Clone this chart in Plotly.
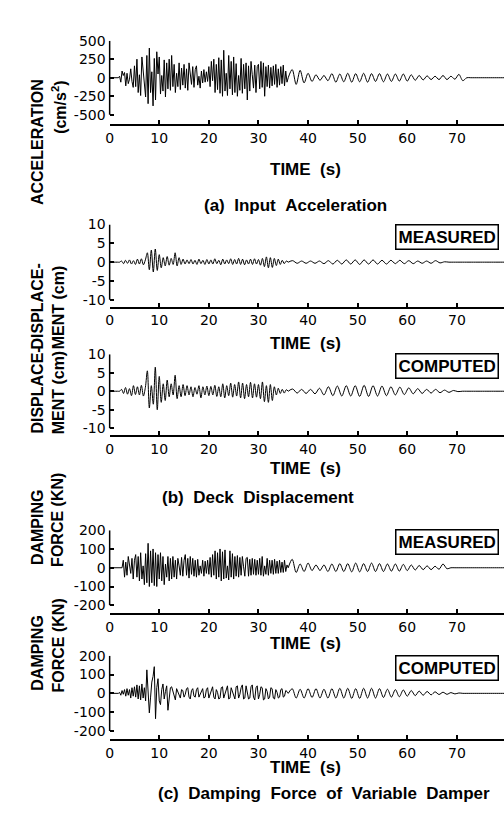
import numpy as np
import plotly.graph_objects as go

W, H = 504, 816

# ------------------------------------------------------------------ data
TIME_TICKS = [0, 10, 20, 30, 40, 50, 60, 70]
ACC_TICKS = [500, 250, 0, -250, -500]
DISP_TICKS = [10, 5, 0, -5, -10]
FORCE_TICKS = [200, 100, 0, -100, -200]

DENSE_DT = 0.25          # strong-motion part, sampled every 0.25 s from t = 0
TAIL_START = 36.0        # free-vibration part, listed as successive half-cycle peaks

# (a) input acceleration (cm/s^2)
ACC_DENSE = [0, 0, 0, 0, 0, 0, 0, 0,
             20, -60, 90, 30, 70, -110, 60, -80, -20, 120, -50, -130,
             160, -120, 250, -200, 40, -240, 280, 60, -150, -260,
             300, -350, 400, -200, 80, -380, 260, -300, 350, 50,
             280, -220, 30, -180, 240, -260, 200, -150, 250, -170,
             300, -120, 180, -200, 60, -120, 200, -160, 130, -100,
             180, -140, 120, -170, 200, 40, -90, 150, -130, 110,
             160, -100, 20, -140, 90, -70, 110, -60, 80, -50,
             150, -120, 220, -40, 250, -200, 180, -160, 270, -210,
             240, -250, 370, -180, 60, -240, 300, -150, 220, -230,
             280, -200, 190, -250, 30, -170, 260, -210, 180, -150,
             200, -300, 160, -180, 220, 40, -140, 170, -200, 150,
             180, -150, 220, -130, 200, -250, 150, -120, 170, -140,
             140, -110, 160, -90, 180, -130, 120, -100, 150, -80,
             170, -110, 90, -60, 0]
ACC_TAIL_DT = 0.8
ACC_TAIL = [0, 110, -90, 100, -70, 60, -50, 40, -35, 30, -40, 55, -60, 50, -55, 60,
            -60, 55, -55, 60, -60, 55, -50, 55, -55, 50, -50, 50, -45, 50, -45, 40,
            -35, 30, -30, 25, -25, 20, -25, 30, -25, 20, -20, 45, -40, 0,
            0, 0, 0, 0, 0, 0, 0, 0, 0, 0]

# (b) deck displacement (cm) -- half-cycle peaks
DISP_DT = 0.4
DISP_TAIL_DT = 0.9
DISP_MEAS = [0, 0, 0, 0, 0, 0,
             0.3, -0.4, 0.5, -0.3, 0.6, -0.5, 0.4, -0.6, 0.8, -0.5, 0.9, -0.7, 0.6,
             2.5, -2.0, 3.2, -2.6, 3.5, -2.2, 2.0, -1.5,
             1.2, -1.0, 1.5, -0.8, 1.0, -0.6, 2.5, -1.0, 1.2,
             -0.6, 0.8, -0.5, 0.6, -0.4, 0.7, -0.5, 0.5, -0.6, 0.8, -0.4, 0.5, -0.6, 0.7, -0.5,
             0.6, -0.5, 0.9, -0.4, 0.5, -0.7, 0.8, -0.5, 0.6, -0.4, 0.9, -0.6, 0.7, -0.5,
             1.0, -0.6, 0.8, -0.7, 0.6, -0.5, 0.8, -0.6, 0.9, -0.5, 0.7,
             -0.8, 1.0, -1.2, 1.4, -1.5, 1.2, -1.4, 1.0, -0.9, 0.8, -0.6, 0.5, -0.4, 0.3, 0.0]
DISP_MEAS_TAIL = [0, 0.4, -0.3, 0.3, -0.3, 0.3, -0.3, 0.3, -0.4, 0.4, -0.5, 0.5, -0.5,
                  0.6, -0.5, 0.6, -0.6, 0.6, -0.5, 0.6, -0.5, 0.5, -0.5, 0.5, -0.4, 0.5,
                  -0.4, 0.4, -0.4, 0.3, -0.3, 0.3, -0.3, 0.4, -0.2, 0.1, 0,
                  0, 0, 0, 0, 0, 0, 0, 0, 0, 0, 0, 0, 0]
DISP_COMP = [0, 0, 0, 0, 0, 0,
             0.5, -0.6, 1.0, -0.8, 0.7, -1.2, 1.5, -0.9, 1.2, -1.0, 1.6, -1.3, 1.0,
             5.5, -4.5, 1.5, -3.5, 6.5, -5.0, 4.0, -3.0,
             2.0, -2.5, 3.0, -1.5, 2.0, -1.0, 4.3, -2.0, 1.5,
             -1.5, 1.8, -1.2, 1.5, -1.0, 1.2, -1.5, 1.0, -0.8, 1.5, -1.8, 1.2, -1.0, 1.4, -1.2,
             1.3, -1.0, 1.6, -1.4, 1.2, -1.5, 2.0, -1.8, 1.5, -1.2, 2.2, -1.6, 1.8, -1.3,
             2.5, -1.8, 2.2, -2.0, 1.8, -1.5, 2.4, -1.8, 2.0, -1.6, 1.8,
             -2.0, 2.5, -2.8, 1.5, -3.0, 1.8, -2.5, 1.2, -1.0, 0.8, -0.6, 0.5, -0.5, 0.4, 0.0]
DISP_COMP_TAIL = [0, 0.6, -0.5, 0.5, -0.6, 0.5, -0.7, 0.8, -1.0, 1.2, -1.2, 1.4, -1.3,
                  1.5, -1.3, 1.5, -1.4, 1.6, -1.4, 1.5, -1.3, 1.4, -1.2, 1.2, -1.0, 1.1,
                  -0.9, 0.9, -0.7, 0.7, -0.6, 0.5, -0.5, 0.5, -0.4, 0.3, -0.3, 0.2, -0.1, 0,
                  0, 0, 0, 0, 0, 0, 0, 0, 0, 0]

# (c) damping force of variable damper (kN)
FORCE_MEAS = [0, 0, 0, 0, 0, 0, 0, 0, 0, 0, 0,
              40, -50, 30, -40, 60, 10, -30, 50, -60, 40,
              70, -50, 60, -70, 80, -60, 10, -90, 75, -80,
              130, -100, 90, -80, 100, -95, 80, -100, 70, -60,
              80, -70, 60, -90, 20, -50, 60, -70, 50, -60,
              60, -50, 40, -60, 50, 10, -40, 55, -45, 40,
              70, -40, 50, -55, 60, -35, 50, -45, 40, -50,
              45, -40, 10, -30, 40, -45, 35, -30, 40, -35,
              55, -50, 70, -40, 90, -60, 80, -50, 100, -70,
              85, -60, 95, -55, 10, -65, 90, -50, 75, -60,
              60, -45, 65, -50, 55, -40, 60, 5, -45, 50,
              55, -45, 45, -40, 50, -35, 45, -40, 40, -35,
              50, -40, 60, -45, 10, -35, 50, -40, 40, -30,
              40, -35, 45, -30, 35, -30, 40, -25, 30, -25,
              40, -20, 15, 0]
FORCE_TAIL_DT = 0.8
FORCE_MEAS_TAIL = [0, 45, -25, 20, -20, 25, -15, 15, -15, 15, -20, 20, -20, 22, -20,
                   22, -22, 25, -22, 22, -20, 25, -20, 22, -20, 20, -18, 20, -18, 18,
                   -15, 15, -12, 12, -10, 10, -10, 8, -8, 20, -5, 0,
                   0, 0, 0, 0, 0, 0, 0, 0, 0, 0, 0, 0, 0, 0]
FORCE_COMP = [0, 0, 0, 0, 0, 0, 0, 0,
              5, -10, 15, -5, 20, -15, 25, -10, 20, -25, 30, -15,
              35, -20, 45, -30, 40, -35, 50, -25, 30, -40,
              125, 20, -104, -20, 60, 90, 142, -135, 30, 78,
              -40, -60, 20, 50, -30, 10, 40, -90, -20, 30,
              35, 10, -20, -35, 25, 5, -15, -25, 20, 15,
              -20, -5, 25, 30, -20, -30, 15, 25, -15, -20,
              20, 30, -20, -5, 15, 25, -25, -20, 20, 30,
              -25, -5, 25, 35, -20, -30, 20, 5, -30, -25,
              30, 35, -25, -5, 25, 40, -30, -25, 30, 5,
              -20, -30, 35, 40, -25, -5, 30, 45, -30, -25,
              40, 10, -30, -25, 35, 45, -20, -35, 30, 40,
              -30, -5, 35, 30, -35, -30, 25, 10, -30, -20,
              30, 25, -25, -30, 20, 5, -25, -20, 20, 25,
              -20, -15, 15, 10, 0]
FORCE_COMP_TAIL = [0, 25, -25, 22, -25, 25, -22, 25, -25, 22, -25, 25, -25, 27, -25,
                   27, -27, 25, -27, 27, -25, 27, -25, 25, -22, 22, -20, 20, -18, 18,
                   -15, 15, -12, 12, -10, 10, -8, 8, -6, 6, -5, 4, -3, 2, 0,
                   0, 0, 0, 0, 0, 0, 0, 0, 0, 0, 0]

X_MAX = 79.5

# ------------------------------------------------------------------ style
BOLD = "Liberation Sans, Arial, Helvetica, sans-serif"
TICKFONT = dict(family="DejaVu Sans, sans-serif", size=14, color="black")
X_LEFT_PX = 106.5


def fy(px):
    return 1 - px / H


def times(start, dt, n):
    return start + dt * np.arange(n)


def bfont(size):
    return dict(family=BOLD, size=size, color="black", weight="bold")


panels = [
    dict(top=33, low=108, axis=117, vmax=500, ticks=ACC_TICKS,
         traces=[(times(0, DENSE_DT, len(ACC_DENSE)), ACC_DENSE, "linear"),
                 (times(TAIL_START, ACC_TAIL_DT, len(ACC_TAIL)), ACC_TAIL, "spline")],
         ytitle=["ACCELERATION", "(cm/s<sup>2</sup>)"], box=None, xtitle=152),
    dict(top=219, low=295, axis=302, vmax=10, ticks=DISP_TICKS,
         traces=[(times(0, DISP_DT, len(DISP_MEAS)), DISP_MEAS, "spline"),
                 (times(TAIL_START, DISP_TAIL_DT, len(DISP_MEAS_TAIL)), DISP_MEAS_TAIL, "spline")],
         ytitle=["DISPLACE-", "MENT (cm)"], box="MEASURED", xtitle=339),
    dict(top=350, low=425, axis=432, vmax=10, ticks=DISP_TICKS,
         traces=[(times(0, DISP_DT, len(DISP_COMP)), DISP_COMP, "spline"),
                 (times(TAIL_START, DISP_TAIL_DT, len(DISP_COMP_TAIL)), DISP_COMP_TAIL, "spline")],
         ytitle=["DISPLACE-", "MENT (cm)"], box="COMPUTED", xtitle=466),
    dict(top=528, low=604, axis=612, vmax=200, ticks=FORCE_TICKS,
         traces=[(times(0, DENSE_DT, len(FORCE_MEAS)), FORCE_MEAS, "linear"),
                 (times(TAIL_START, FORCE_TAIL_DT, len(FORCE_MEAS_TAIL)), FORCE_MEAS_TAIL, "spline")],
         ytitle=["DAMPING", "FORCE (KN)"], box="MEASURED", xtitle=654),
    dict(top=655, low=731, axis=739, vmax=200, ticks=FORCE_TICKS,
         traces=[(times(0, DENSE_DT, len(FORCE_COMP)), FORCE_COMP, "linear"),
                 (times(TAIL_START, FORCE_TAIL_DT, len(FORCE_COMP_TAIL)), FORCE_COMP_TAIL, "spline")],
         ytitle=["DAMPING", "FORCE (KN)"], box="COMPUTED", xtitle=780),
]

fig = go.Figure()
layout = dict(width=W, height=H, margin=dict(l=0, r=0, t=0, b=0),
              paper_bgcolor="white", plot_bgcolor="white", showlegend=False)
shapes, annotations = [], []

for i, p in enumerate(panels):
    k = "" if i == 0 else str(i + 1)
    xa, ya = "x" + k, "y" + k
    per_px = 2 * p["vmax"] / (p["low"] - p["top"])
    ymin = -p["vmax"] - (p["axis"] - p["low"]) * per_px
    for xs, ys, shape in p["traces"]:
        fig.add_trace(go.Scatter(x=xs, y=ys, mode="lines", xaxis=xa, yaxis=ya,
                                 line=dict(color="black", width=1, shape=shape, smoothing=0.9),
                                 hoverinfo="skip"))
    layout["xaxis" + k] = dict(domain=[X_LEFT_PX / W, 1], range=[0, X_MAX], anchor=ya,
                               showgrid=False, zeroline=False, showline=True,
                               linecolor="black", linewidth=2, ticks="inside", ticklen=4,
                               tickwidth=1.5, tickcolor="black", tickvals=TIME_TICKS,
                               tickfont=TICKFONT)
    layout["yaxis" + k] = dict(domain=[fy(p["axis"]), fy(p["top"])], range=[ymin, p["vmax"]],
                               anchor=xa, showgrid=False, zeroline=False, showline=False,
                               ticks="inside", ticklen=4, tickwidth=1.5, tickcolor="black",
                               tickvals=p["ticks"], ticktext=[str(v) for v in p["ticks"]],
                               tickfont=TICKFONT, ticklabelstandoff=3)
    shapes.append(dict(type="line", xref=xa + " domain", yref=ya, x0=0, x1=0,
                       y0=-p["vmax"], y1=p["vmax"], line=dict(color="black", width=1.5)))
    zero_px = (p["top"] + p["low"]) / 2
    annotations.append(dict(text=p["ytitle"][0], x=23 / W, y=fy(zero_px - 1), xref="paper",
                            yref="paper", textangle=-90, showarrow=False, font=bfont(16)))
    annotations.append(dict(text=p["ytitle"][1], x=44 / W, y=fy(zero_px + 1), xref="paper",
                            yref="paper", textangle=-90, showarrow=False, font=bfont(16)))
    annotations.append(dict(text="TIME\u00a0\u00a0(s)", x=304 / W, y=fy(p["xtitle"]),
                            xref="paper", yref="paper", showarrow=False, font=bfont(17)))
    if p["box"]:
        annotations.append(dict(text=p["box"], x=499 / W, y=fy(p["top"] - 1), xref="paper",
                                yref="paper", xanchor="right", yanchor="top", showarrow=False,
                                bordercolor="black", borderwidth=1.5, borderpad=2,
                                bgcolor="white", font=bfont(17)))

captions = [("(a)\u00a0\u00a0Input\u00a0\u00a0Acceleration", 294, 188),
            ("(b)\u00a0\u00a0Deck\u00a0\u00a0Displacement", 256, 495),
            ("(c)\u00a0\u00a0Damping\u00a0\u00a0Force\u00a0\u00a0of\u00a0\u00a0Variable\u00a0\u00a0Damper", 323, 806)]
for text, cx, cy in captions:
    annotations.append(dict(text=text, x=cx / W, y=fy(cy), xref="paper", yref="paper",
                            showarrow=False, font=bfont(17)))

layout["shapes"] = shapes
layout["annotations"] = annotations
fig.update_layout(**layout)
fig.write_html("out.html", config={"displayModeBar": False},
               post_script="document.body.style.margin='0';document.body.style.overflow='hidden';")
